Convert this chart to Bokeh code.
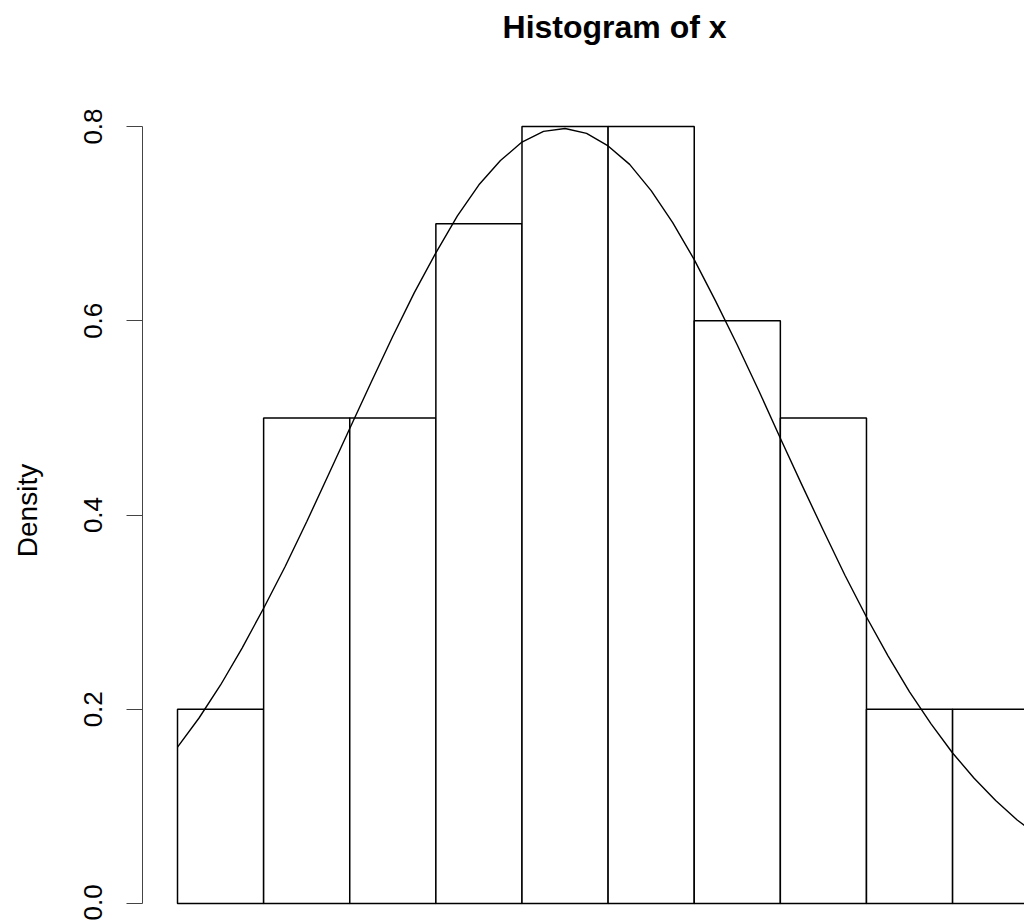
from bokeh.plotting import figure
from bokeh.layouts import column
from bokeh.models import Range1d, FixedTicker, PrintfTickFormatter, ColumnDataSource
from bokeh.core.properties import value
from bokeh.embed import file_html
from bokeh.resources import INLINE

# Histogram data (bin edges and densities)
breaks = [-1.0, -0.8, -0.6, -0.4, -0.2, 0.0, 0.2, 0.4, 0.6, 0.8, 1.0]
density = [0.2, 0.5, 0.5, 0.7, 0.8, 0.8, 0.6, 0.5, 0.2, 0.2]

# Density curve
curve_x = [-1.00, -0.95, -0.90, -0.85, -0.80, -0.75, -0.70, -0.65, -0.60, -0.55,
           -0.50, -0.45, -0.40, -0.35, -0.30, -0.25, -0.20, -0.15, -0.10, -0.05,
           0.00, 0.05, 0.10, 0.15, 0.20, 0.25, 0.30, 0.35, 0.40, 0.45,
           0.50, 0.55, 0.60, 0.65, 0.70, 0.75, 0.80, 0.85, 0.90, 0.95, 1.00]
curve_y = [0.161, 0.191, 0.225, 0.263, 0.304, 0.347, 0.393, 0.441, 0.489, 0.537,
           0.584, 0.629, 0.670, 0.708, 0.740, 0.765, 0.784, 0.795, 0.798, 0.793,
           0.780, 0.761, 0.734, 0.701, 0.663, 0.620, 0.575, 0.528, 0.479, 0.431,
           0.384, 0.338, 0.295, 0.255, 0.218, 0.185, 0.155, 0.129, 0.106, 0.086, 0.069]

y_ticks = [0.0, 0.2, 0.4, 0.6, 0.8]
title_text = "Histogram of x"

W = 1024
TITLE_H = 100
PLOT_H = 820

# Title strip (a figure holding only the title text)
t = figure(width=W, height=TITLE_H, output_backend="svg", toolbar_location=None,
           x_range=Range1d(0, W), y_range=Range1d(0, TITLE_H),
           min_border_left=0, min_border_right=0, min_border_top=0, min_border_bottom=0)
t.axis.visible = False
t.grid.visible = False
t.outline_line_color = None
t.text(x=[418], y=[74], text=[title_text],
       text_font=value("Liberation Sans"), text_font_size="32px", text_font_style="bold",
       text_color="black", text_align="left", text_baseline="alphabetic")

p = figure(width=W, height=PLOT_H, output_backend="svg", toolbar_location=None,
           x_range=Range1d(-1.0813, 0.967), y_range=Range1d(-0.0175, 0.8268),
           min_border_left=142, min_border_right=0, min_border_top=0, min_border_bottom=0)

src = ColumnDataSource(dict(left=breaks[:-1], right=breaks[1:], top=density,
                            bottom=[0] * len(density)))
p.quad(left="left", right="right", top="top", bottom="bottom", source=src,
       fill_color="white", line_color="black", line_width=1.5)

p.line(curve_x, curve_y, line_color="black", line_width=1.4)

p.xaxis.visible = False
p.grid.visible = False
p.outline_line_color = None

ya = p.yaxis[0]
ya.ticker = FixedTicker(ticks=y_ticks)
ya.formatter = PrintfTickFormatter(format="%.1f")
ya.bounds = (0, 0.8)
ya.axis_label = "Density"
ya.axis_label_text_font = "Liberation Sans"
ya.axis_label_text_font_size = "28px"
ya.axis_label_text_font_style = "normal"
ya.axis_label_standoff = 39
ya.major_label_text_font = "Liberation Sans"
ya.major_label_text_font_size = "26px"
ya.major_label_orientation = "vertical"
ya.major_label_standoff = 24
ya.major_tick_out = 16
ya.major_tick_in = 0
ya.minor_tick_line_color = None
ya.axis_line_color = "#444444"
ya.major_tick_line_color = "#444444"
ya.major_label_text_color = "black"
ya.axis_label_text_color = "black"

layout = column(t, p, spacing=0)
open("out.html", "w").write(file_html(layout, INLINE))
